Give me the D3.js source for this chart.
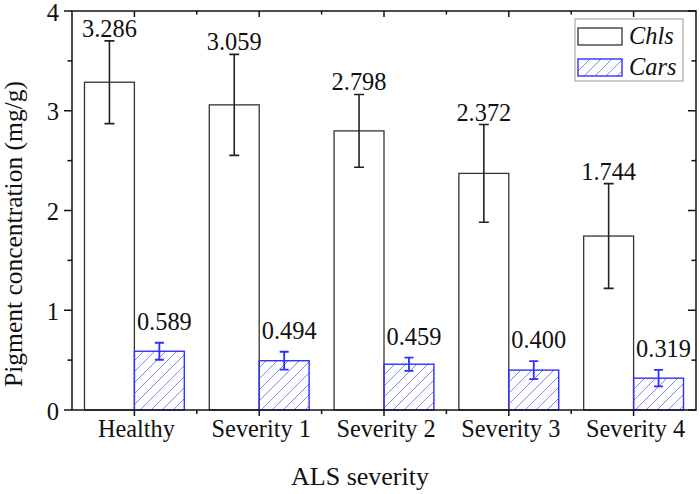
<!DOCTYPE html>
<html><head><meta charset="utf-8">
<script src="https://cdn.jsdelivr.net/npm/d3@7"></script>
<style>
body{margin:0;background:#fff;}
svg, svg text{font-family:"Liberation Serif","Times New Roman",Times,serif;}
</style></head>
<body><svg id="c" width="700" height="494"></svg>
<script>
const categories = ["Healthy","Severity 1","Severity 2","Severity 3","Severity 4"];
const chls = [3.286, 3.059, 2.798, 2.372, 1.744];
const chlsErr = [0.415, 0.506, 0.365, 0.49, 0.525];
const cars = [0.589, 0.494, 0.459, 0.400, 0.319];
const carsErr = [0.085, 0.09, 0.067, 0.09, 0.083];
const yTicks = [0,1,2,3,4];
const yMinor = [0.5,1.5,2.5,3.5];
const seriesNames = ["Chls","Cars"];

const FF = "Liberation Serif, Times New Roman, serif";
const svg = d3.select("#c");
const L=72, R=696, T=11, B=410;
const x = d3.scaleBand().domain(categories).range([L,R]).paddingInner(0).paddingOuter(0);
const y = d3.scaleLinear().domain([0,4]).range([B,T]);
const bw = x.bandwidth()*0.4;
const center = c => x(c)+x.bandwidth()/2;
const fmt = d3.format(".3f");
const blue = "#2f2fff";

const defs = svg.append("defs");
const pat = defs.append("pattern").attr("id","hatch").attr("patternUnits","userSpaceOnUse")
  .attr("width",11).attr("height",11);
pat.append("path").attr("d","M0,11 L11,0 M-3,3 L3,-3 M8,14 L14,8")
  .attr("stroke","#8484ff").attr("stroke-width",1);

// bars
const g = svg.append("g");
g.selectAll("rect.chl").data(categories).join("rect").attr("class","chl")
  .attr("x",c=>center(c)-bw).attr("width",bw)
  .attr("y",(c,i)=>y(chls[i])).attr("height",(c,i)=>y(0)-y(chls[i]))
  .attr("fill","#fff").attr("stroke","#333").attr("stroke-width",1.3);
g.selectAll("rect.car").data(categories).join("rect").attr("class","car")
  .attr("x",c=>center(c)).attr("width",bw)
  .attr("y",(c,i)=>y(cars[i])).attr("height",(c,i)=>y(0)-y(cars[i]))
  .attr("fill","url(#hatch)").attr("stroke",blue).attr("stroke-width",1.4);

// error bars
function errbars(vals, errs, dx, color, cap, sw){
  categories.forEach((c,i)=>{
    const cx = center(c)+dx;
    const y1 = y(vals[i]+errs[i]), y2 = y(vals[i]-errs[i]);
    const p = d3.path();
    p.moveTo(cx,y1); p.lineTo(cx,y2);
    p.moveTo(cx-cap,y1); p.lineTo(cx+cap,y1);
    p.moveTo(cx-cap,y2); p.lineTo(cx+cap,y2);
    g.append("path").attr("d",p.toString()).attr("stroke",color).attr("stroke-width",sw).attr("fill","none");
  });
}
errbars(chls, chlsErr, -bw/2, "#222", 5, 1.6);
errbars(cars, carsErr, bw/2, blue, 4.5, 1.8);

function txt(sel){ return sel.attr("font-family",FF).attr("fill","#111"); }

// value labels
txt(g.selectAll("text.lc").data(categories).join("text").attr("class","lc"))
  .attr("x",c=>center(c)-bw/2).attr("y",(c,i)=>y(chls[i]+chlsErr[i])-4)
  .attr("text-anchor","middle").attr("font-size",24.4)
  .text((c,i)=>fmt(chls[i]));
txt(g.selectAll("text.lb").data(categories).join("text").attr("class","lb"))
  .attr("x",c=>center(c)+bw/2+5).attr("y",(c,i)=>y(cars[i]+carsErr[i])-13)
  .attr("text-anchor","middle").attr("font-size",24.4)
  .text((c,i)=>fmt(cars[i]));

// axes
const ax = svg.append("g").attr("stroke","#111").attr("stroke-width",1.5).attr("fill","none");
ax.append("rect").attr("x",L).attr("y",T).attr("width",R-L).attr("height",B-T);
const bounds = x.domain().map(c=>x(c)).slice(1);
yTicks.forEach(v=>{
  ax.append("line").attr("x1",L-8).attr("x2",L).attr("y1",y(v)).attr("y2",y(v));
  ax.append("line").attr("x1",R-8).attr("x2",R).attr("y1",y(v)).attr("y2",y(v));
});
yMinor.forEach(v=>{
  ax.append("line").attr("x1",L-4.5).attr("x2",L).attr("y1",y(v)).attr("y2",y(v));
  ax.append("line").attr("x1",R-4.5).attr("x2",R).attr("y1",y(v)).attr("y2",y(v));
});
categories.forEach(c=>{
  const cx=center(c);
  ax.append("line").attr("x1",cx).attr("x2",cx).attr("y1",B).attr("y2",B+6);
  ax.append("line").attr("x1",cx).attr("x2",cx).attr("y1",T).attr("y2",T+6);
});
bounds.forEach(bx=>{
  ax.append("line").attr("x1",bx).attr("x2",bx).attr("y1",B).attr("y2",B+4);
  ax.append("line").attr("x1",bx).attr("x2",bx).attr("y1",T).attr("y2",T+3.5);
});

// tick labels
txt(svg.selectAll("text.yl").data(yTicks).join("text").attr("class","yl"))
  .attr("x",L-13).attr("y",v=>y(v)+9.5).attr("text-anchor","end")
  .attr("font-size",24.6).text(v=>v);
txt(svg.selectAll("text.xl").data(categories).join("text").attr("class","xl"))
  .attr("x",c=>center(c)+2).attr("y",437).attr("text-anchor","middle")
  .attr("font-size",24.3).text(c=>c);

// titles
txt(svg.append("text")).attr("x",360).attr("y",485).attr("text-anchor","middle")
  .attr("font-size",26).text("ALS severity");
txt(svg.append("text")).attr("transform","translate(22,234) rotate(-90)").attr("text-anchor","middle")
  .attr("font-size",25.5).text("Pigment concentration (mg/g)");

// legend
const lg = svg.append("g");
lg.append("rect").attr("x",575).attr("y",19).attr("width",108).attr("height",62)
  .attr("fill","#fff").attr("stroke","#999").attr("stroke-width",1);
lg.append("rect").attr("x",578).attr("y",28).attr("width",44).attr("height",17)
  .attr("fill","#fff").attr("stroke","#333").attr("stroke-width",1.3);
lg.append("rect").attr("x",578).attr("y",59).attr("width",44).attr("height",17)
  .attr("fill","url(#hatch)").attr("stroke",blue).attr("stroke-width",1.4);
txt(lg.selectAll("text.lt").data(seriesNames).join("text").attr("class","lt"))
  .attr("x",629).attr("y",(d,i)=>44+i*31).attr("font-size",24.4).attr("font-style","italic")
  .text(d=>d);
</script></body></html>
